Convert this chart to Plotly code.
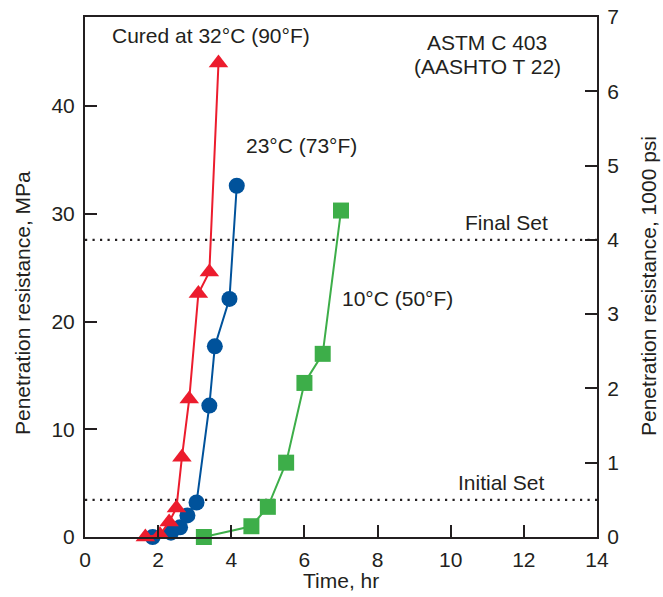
import plotly.graph_objects as go

# ---- data ----
t32 = [1.65, 2.05, 2.3, 2.5, 2.65, 2.85, 3.1, 3.4, 3.65]
r32 = [0.0, 0.2, 1.4, 2.7, 7.4, 12.8, 22.6, 24.6, 44.0]

t23 = [1.85, 2.35, 2.6, 2.8, 3.05, 3.4, 3.55, 3.95, 4.15]
r23 = [0.0, 0.4, 0.9, 2.0, 3.2, 12.2, 17.7, 22.1, 32.6]

t10 = [3.25, 4.55, 5.0, 5.5, 6.0, 6.5, 7.0]
r10 = [0.0, 1.0, 2.8, 6.9, 14.3, 17.0, 30.3]

set_labels = ["Initial Set", "Final Set"]
set_psi = [0.5, 4.0]          # 1000 psi
MPA_PER_KSI = 6.894757

x_ticks = [0, 2, 4, 6, 8, 10, 12, 14]
y_ticks_mpa = [0, 10, 20, 30, 40]
y_ticks_ksi = [0, 1, 2, 3, 4, 5, 6, 7]

RED = "#EC1C2D"
BLUE = "#00529B"
GREEN = "#3DAE49"
INK = "#231F20"
FONT = "Liberation Sans, Arial, sans-serif"
FS = 21

ymax = 7 * MPA_PER_KSI

fig = go.Figure()
fig.add_trace(go.Scatter(x=t10, y=r10, mode="lines+markers", cliponaxis=False,
                         line=dict(color=GREEN, width=2),
                         marker=dict(symbol="square", size=16, color=GREEN)))
fig.add_trace(go.Scatter(x=t23, y=r23, mode="lines+markers", cliponaxis=False,
                         line=dict(color=BLUE, width=2),
                         marker=dict(symbol="circle", size=16, color=BLUE)))
fig.add_trace(go.Scatter(x=t32, y=r32, mode="lines+markers", cliponaxis=False,
                         line=dict(color=RED, width=2),
                         marker=dict(symbol="triangle-up", size=17, color=RED)))
# invisible trace to activate the right axis
fig.add_trace(go.Scatter(x=[0], y=[0], yaxis="y2", mode="markers",
                         marker=dict(opacity=0), hoverinfo="skip"))

for ksi in set_psi:
    fig.add_shape(type="line", xref="paper", yref="y", x0=0, x1=1,
                  y0=ksi * MPA_PER_KSI, y1=ksi * MPA_PER_KSI,
                  line=dict(color=INK, width=2.2, dash="2.2px,5.3px"), layer="below")

L, R, T, B = 85, 66, 17, 60
W, H = 663, 597
pw, ph = W - L - R, H - T - B


def px(xp):
    return (xp - L) / pw


def py(yp):
    return (H - B - yp) / ph


def ann(text, x, y, **kw):
    fig.add_annotation(text=text, xref="paper", yref="paper", x=px(x), y=py(y),
                       showarrow=False, xanchor="center", yanchor="middle",
                       font=dict(family=FONT, size=kw.pop("size", FS), color=INK), **kw)


ann("Cured at 32°C (90°F)", 211, 36)
ann("ASTM C 403", 487, 42)
ann("(AASHTO T 22)", 487, 66)
ann("23°C (73°F)", 301, 145)
ann(set_labels[1], 506, 222)
ann("10°C (50°F)", 397, 298)
ann(set_labels[0], 501, 482)
ann("Penetration resistance, MPa", 22, 303, textangle=-90)
ann("Penetration resistance, 1000 psi", 649, 286, textangle=-90)
ann("Time, hr", 341, 580)

axis_common = dict(showline=True, linecolor=INK, linewidth=2, showgrid=False,
                   zeroline=False, ticks="inside", ticklen=12, tickwidth=2,
                   tickcolor=INK, automargin=False,
                   tickfont=dict(family=FONT, size=FS, color=INK))

fig.update_layout(
    template="none",
    width=W, height=H,
    margin=dict(l=L, r=R, t=T, b=B, pad=0, autoexpand=False),
    paper_bgcolor="white", plot_bgcolor="white",
    showlegend=False,
    font=dict(family=FONT, size=FS, color=INK),
    xaxis=dict(range=[0, 14], tickvals=x_ticks, mirror=True, **axis_common),
    yaxis=dict(range=[0, ymax], tickvals=y_ticks_mpa, **axis_common),
    yaxis2=dict(range=[0, 7], tickvals=y_ticks_ksi, overlaying="y", side="right",
                **axis_common),
)
fig.update_xaxes(ticklabelstandoff=3)
fig.update_yaxes(ticklabelstandoff=4)

fig.write_html("out.html",
               config={"displayModeBar": False},
               post_script="document.body.style.margin='0';document.body.style.overflow='hidden';")
